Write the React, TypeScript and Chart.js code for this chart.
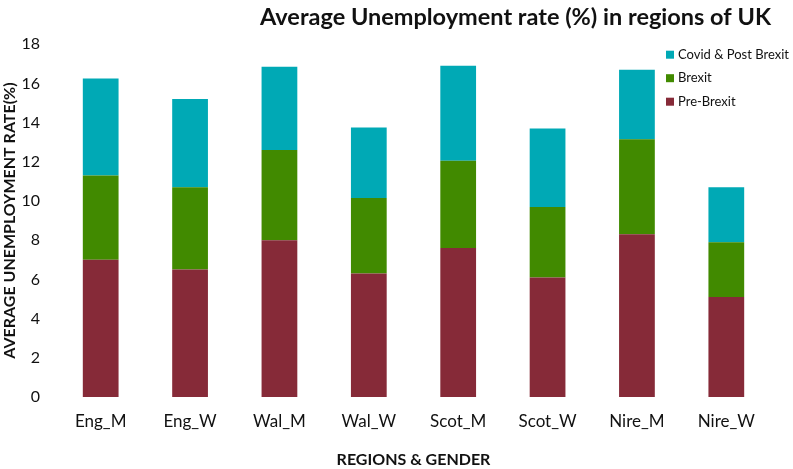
import { useEffect, useRef } from "react";
import { Chart, registerables, type Plugin } from "chart.js";

Chart.register(...registerables);

const REGIONS = ["Eng_M", "Eng_W", "Wal_M", "Wal_W", "Scot_M", "Scot_W", "Nire_M", "Nire_W"];
const PRE_BREXIT = [7.0, 6.5, 8.0, 6.3, 7.6, 6.1, 8.3, 5.1];
const BREXIT = [4.3, 4.2, 4.6, 3.85, 4.45, 3.6, 4.85, 2.8];
const COVID_POST_BREXIT = [4.95, 4.5, 4.25, 3.6, 4.85, 4.0, 3.55, 2.8];

const Y_MIN = 0;
const Y_MAX = 18;
const Y_STEP = 2;

const FONT = "Lato, 'Open Sans', sans-serif";
const TEXT = "#111111";

// Legend sits inside the plot, top right, in reverse stack order
const insideLegend: Plugin<"bar"> = {
  id: "insideLegend",
  afterDraw(chart) {
    const { ctx, chartArea } = chart;
    const sets = [...chart.data.datasets].reverse();
    ctx.save();
    ctx.font = `13px ${FONT}`;
    ctx.textBaseline = "middle";
    const x = chartArea.right - 105;
    sets.forEach((ds, i) => {
      const y = chartArea.top + 10.5 + i * 23.5;
      ctx.fillStyle = ds.backgroundColor as string;
      ctx.fillRect(x, y - 4, 8, 8);
      ctx.fillStyle = TEXT;
      ctx.fillText(ds.label ?? "", x + 12, y);
    });
    ctx.restore();
  },
};

export default function App() {
  const canvasRef = useRef<HTMLCanvasElement>(null);
  const chartRef = useRef<Chart | null>(null);

  useEffect(() => {
    document.body.style.margin = "0";
    if (!canvasRef.current) return;
    if (chartRef.current) chartRef.current.destroy();

    chartRef.current = new Chart(canvasRef.current, {
      type: "bar",
      data: {
        labels: REGIONS,
        datasets: [
          { label: "Pre-Brexit", data: PRE_BREXIT, backgroundColor: "#862a38" },
          { label: "Brexit", data: BREXIT, backgroundColor: "#418a00" },
          { label: "Covid & Post Brexit", data: COVID_POST_BREXIT, backgroundColor: "#00a9b5" },
        ],
      },
      options: {
        responsive: true,
        maintainAspectRatio: false,
        animation: false,
        layout: { padding: { right: 22 } },
        datasets: { bar: { barPercentage: 0.4, categoryPercentage: 1 } },
        scales: {
          x: {
            stacked: true,
            grid: { display: false },
            border: { display: false },
            ticks: { color: TEXT, font: { family: FONT, size: 17 }, padding: 6 },
            title: {
              display: true,
              text: "REGIONS & GENDER",
              color: TEXT,
              font: { family: FONT, size: 16, weight: "bold" },
              padding: { top: 4, bottom: 0 },
            },
            afterFit: (s) => { s.height = 72; },
          },
          y: {
            stacked: true,
            min: Y_MIN,
            max: Y_MAX,
            grid: { display: false },
            border: { display: false },
            ticks: { stepSize: Y_STEP, color: TEXT, font: { family: FONT, size: 16 }, padding: 8 },
            title: {
              display: true,
              text: "AVERAGE UNEMPLOYMENT RATE(%)",
              color: TEXT,
              font: { family: FONT, size: 16, weight: "bold" },
              padding: { top: 0, bottom: 4 },
            },
            afterFit: (s) => { s.width = 56; },
          },
        },
        plugins: {
          legend: { display: false },
          tooltip: { enabled: false },
          title: {
            display: true,
            text: "Average Unemployment rate (%) in regions of UK",
            align: "end",
            color: TEXT,
            font: { family: FONT, size: 23.5, weight: "bold" },
            padding: { top: 3, bottom: 13 },
          },
        },
      },
      plugins: [insideLegend],
    });

    return () => {
      chartRef.current?.destroy();
      chartRef.current = null;
    };
  }, []);

  return (
    <div style={{ width: 793, height: 469, position: "relative" }}>
      <canvas ref={canvasRef} />
    </div>
  );
}
